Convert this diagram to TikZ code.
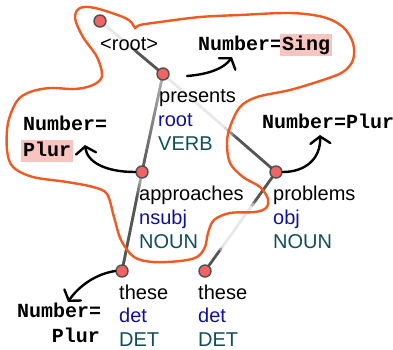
\documentclass[tikz,border=0pt]{standalone}
\usepackage{fontspec}
\setmainfont{Liberation Sans}
\setmonofont{Liberation Mono}
\usetikzlibrary{arrows.meta,calc}
\definecolor{tokfill}{HTML}{F06464}
\definecolor{tokline}{HTML}{505050}
\definecolor{edark}{HTML}{555555}
\definecolor{elight}{HTML}{E8E8E8}
\definecolor{deprel}{HTML}{10109A}
\definecolor{upos}{HTML}{104E5A}
\definecolor{blob}{HTML}{F05A22}
\definecolor{hilite}{HTML}{F8C4C0}
\pgfdeclarelayer{bg}
\pgfdeclarelayer{mid}
\pgfsetlayers{bg,mid,main}

% dependency edge shaded along its length; #3 gives darkness (0..1) as a function of \t
\newcommand\gradedge[3]{%
  \foreach \i in {0,...,39}{%
    \pgfmathsetmacro\t{(\i+0.5)/40}%
    \pgfmathsetmacro\ta{\i/40}%
    \pgfmathsetmacro\tb{(\i+1)/40}%
    \pgfmathtruncatemacro\d{100*max(0,min(1,#3))}%
    \draw[edgeseg, color=edark!\d!elight] ($(#1)!\ta!(#2)$) -- ($(#1)!\tb!(#2)$);
  }}

\tikzset{
  tok/.style={circle, fill=tokfill, draw=tokline, line width=1.4pt, minimum size=12pt, inner sep=0pt},
  edgeseg/.style={line width=2.8pt, line cap=round},
  word/.style={anchor=base west, inner sep=0pt, font=\fontsize{20}{24}\selectfont},
  rel/.style={word, text=deprel},
  tagpos/.style={word, text=upos},
  feat/.style={anchor=base west, inner sep=0pt, font=\fontsize{20}{24}\selectfont\ttfamily\bfseries},
  hl/.style={feat, fill=hilite, inner xsep=2pt, text height=16pt, text depth=6pt},
  featarrow/.style={line width=2.4pt, black, line cap=round,
    -{Straight Barb[length=7pt, width=20pt, line cap=round]}},
  region/.style={draw=blob, line width=2.4pt}
}

\begin{document}
\begin{tikzpicture}[x=1pt, y=-1pt]
\useasboundingbox (0,0) rectangle (393,349);

% token points
\node[tok] (root) at (100,21) {};
\node[tok] (presents) at (163,74) {};
\node[tok] (approaches) at (142,172) {};
\node[tok] (problems) at (276,172) {};
\node[tok] (these1) at (122,271) {};
\node[tok] (these2) at (205,271) {};

% dependency edges
\begin{pgfonlayer}{bg}
\gradedge{root}{presents}{(\t-0.48)/0.1}
\gradedge{presents}{approaches}{0.35+0.65*\t}
\gradedge{presents}{problems}{(\t-0.55)/0.1}
\gradedge{approaches}{these1}{0.3+(\t-0.05)/0.3}
\gradedge{problems}{these2}{max((0.36-\t)/0.06,(\t-0.76)/0.05)}
\end{pgfonlayer}

% highlighted region
\begin{pgfonlayer}{mid}
\draw[region] plot[smooth cycle, tension=0.55] coordinates {
  (80,8) (95,8) (123,17) (132,23) (135,28) (140,25) (160,22) (200,17)
  (240,15) (290,13) (323,17) (343,27) (353,43) (353,60) (343,72) (323,80)
  (290,90) (257,97) (240,107) (230,127) (227,143) (230,163) (243,177)
  (260,187) (268,199) (266,208) (255,212) (230,213) (214,220) (208,233)
  (205,247) (197,257) (180,261) (153,262) (134,257) (121,240) (114,217)
  (107,194) (93,187) (67,182) (33,177) (13,167) (7,150) (8,123) (17,101)
  (30,92) (50,88) (75,89) (93,85) (102,76) (97,57) (83,37) (75,18)};
\end{pgfonlayer}

% word labels
\node[word] (t0) at (100,50) {<root>};
\node[word] (w1) at (159,102) {presents};
\node[rel] (r1) at (158,126) {root};
\node[tagpos] (p1) at (158,150) {VERB};
\node[word] (w2) at (139,200) {approaches};
\node[rel] (r2) at (139,224) {nsubj};
\node[tagpos] (p2) at (139,248) {NOUN};
\node[word] (w3) at (273,200) {problems};
\node[rel] (r3) at (273,224) {obj};
\node[tagpos] (p3) at (273,248) {NOUN};
\node[word] (w4) at (119,299) {these};
\node[rel] (r4) at (119,322) {det};
\node[tagpos] (p4) at (119,346) {DET};
\node[word] (w5) at (198,299) {these};
\node[rel] (r5) at (198,322) {det};
\node[tagpos] (p5) at (198,346) {DET};

% morphological features
\node[feat] (f1) at (198,50) {Number=};
\node[hl] (f1v) at (280,50) {Sing};
\node[feat] (f2) at (262,128) {Number=Plur};
\node[feat] (f3) at (23,130) {Number=};
\node[hl] (f3v) at (21,156) {Plur};
\node[feat] (f4) at (17,317) {Number=};
\node[feat, anchor=base east] (f4v) at (100,342) {Plur};

% feature arrows
\coordinate (s1) at (187,76);
\coordinate (e1) at (232,57);
\draw[featarrow] (s1) .. controls (212,74) and (225,67) .. (e1);
\coordinate (e2) at (85,145);
\draw[featarrow] (approaches.west) .. controls (105,172) and (87,162) .. (e2);
\coordinate (e3) at (320,135);
\draw[featarrow] (problems.east) .. controls (306,172) and (321,158) .. (e3);
\coordinate (e4) at (68,302);
\draw[featarrow] (these1.west) .. controls (95,274) and (78,287) .. (e4);
\end{tikzpicture}
\end{document}
